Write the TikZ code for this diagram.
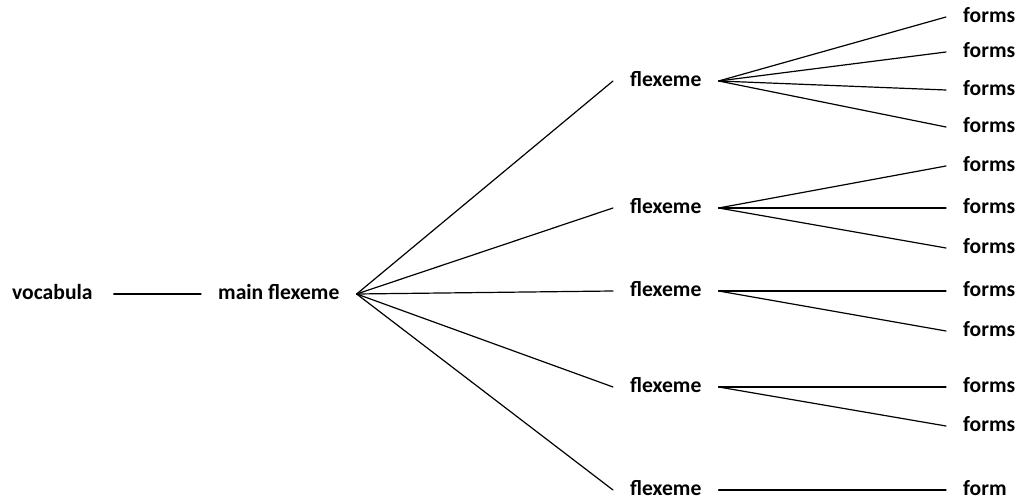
\documentclass[tikz,border=0pt]{standalone}
\usepackage{fontspec}
\setmainfont{Carlito}
\begin{document}
\fontsize{21.6}{26}\selectfont\bfseries
\begin{tikzpicture}[x=1pt,y=-1pt,
  lbl/.style={anchor=mid west,inner ysep=0pt,inner xsep=17pt},
  edge/.style={line width=1.2pt,line cap=round}]
\useasboundingbox (0,0) rectangle (1017,502);

% root and main flexeme
\node[lbl,inner xsep=21pt] (voc)  at (-9,294)  {vocabula};
\node[lbl]                 (main) at (201,294) {main flexeme};

% flexemes
\node[lbl] (f1) at (613,81)  {flexeme};
\node[lbl] (f2) at (613,208) {flexeme};
\node[lbl] (f3) at (613,291) {flexeme};
\node[lbl] (f4) at (613,387) {flexeme};
\node[lbl] (f5) at (613,490) {flexeme};

% word forms
\node[lbl] (a1) at (946,17)  {forms};
\node[lbl] (a2) at (946,52)  {forms};
\node[lbl] (a3) at (946,90)  {forms};
\node[lbl] (a4) at (946,127) {forms};
\node[lbl] (b1) at (946,166) {forms};
\node[lbl] (b2) at (946,208) {forms};
\node[lbl] (b3) at (946,248) {forms};
\node[lbl] (c1) at (946,291) {forms};
\node[lbl] (c2) at (946,331) {forms};
\node[lbl] (d1) at (946,387) {forms};
\node[lbl] (d2) at (946,426) {forms};
\node[lbl] (e1) at (946,490) {form};

% connectors
\draw[edge] (voc.mid east) -- (main.mid west);
\foreach \f in {f1,f2,f3,f4,f5}
  \draw[edge] (main.mid east) -- (\f.mid west);
\foreach \t in {a1,a2,a3,a4}
  \draw[edge] (f1.mid east) -- (\t.mid west);
\foreach \t in {b1,b2,b3}
  \draw[edge] (f2.mid east) -- (\t.mid west);
\foreach \t in {c1,c2}
  \draw[edge] (f3.mid east) -- (\t.mid west);
\foreach \t in {d1,d2}
  \draw[edge] (f4.mid east) -- (\t.mid west);
\draw[edge] (f5.mid east) -- (e1.mid west);
\end{tikzpicture}
\end{document}
